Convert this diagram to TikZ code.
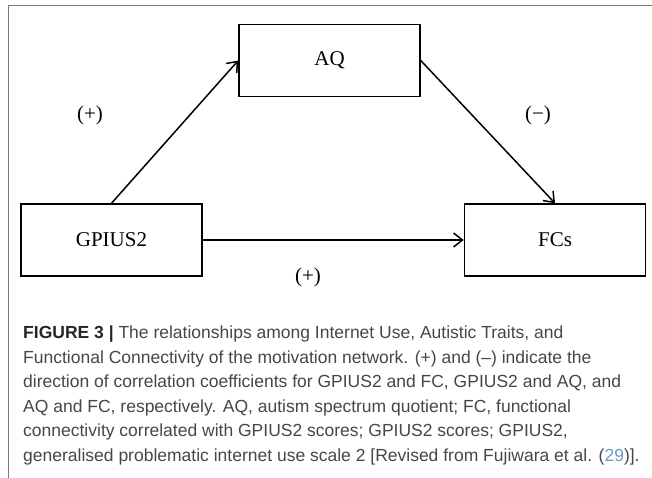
\documentclass[tikz,border=0pt]{standalone}
\usepackage{fontspec}
\setmainfont{Liberation Serif}
\newfontfamily\capfont{Liberation Sans}
\usetikzlibrary{arrows.meta}
\definecolor{framegray}{RGB}{120,120,120}
\definecolor{captext}{RGB}{70,70,70}
\definecolor{citeblue}{RGB}{110,150,200}

\begin{document}
\begin{tikzpicture}[x=1pt, y=-1pt,
    varbox/.style={draw, rectangle, line width=1.5pt, minimum width=181pt, minimum height=72pt, inner sep=0pt, font=\fontsize{21}{25}\selectfont},
    signlabel/.style={font=\fontsize{21}{25}\selectfont},
    relarrow/.style={-{Straight Barb[length=9pt,width=14pt]}, line width=1.5pt}]
    \useasboundingbox (0,0) rectangle (652,478);

    % Frame
    \draw[framegray, line width=1pt] (8,478) -- (8,6) -- (652,6);

    % Variables
    \node[varbox] (aq) at (329.5,60.5) {AQ};
    \node[varbox] (gpius) at (111.5,240) {GPIUS2};
    \node[varbox] (fcs) at (555,240) {FCs};

    % Paths
    \draw[relarrow] (gpius.north) -- (aq.west);
    \draw[relarrow] (aq.east) -- (fcs.north);
    \draw[relarrow] (gpius.east) -- (fcs.west);

    % Signs
    \node[signlabel] (plusa) at (90,115) {(+)};
    \node[signlabel] (minus) at (538,115) {(−)};
    \node[signlabel] (plusb) at (308,277) {(+)};

    % Caption
    \node[anchor=north west, inner sep=0pt, align=left, text=captext,
          font=\capfont\fontsize{17.5}{24.5}\selectfont] (caption) at (23,326)
        {{\bfseries\color{black!85}FIGURE 3 |} The relationships among Internet Use, Autistic Traits, and\\
         Functional Connectivity of the motivation network. (+) and (–) indicate the\\
         direction of correlation coefficients for GPIUS2 and FC, GPIUS2 and AQ, and\\
         AQ and FC, respectively. AQ, autism spectrum quotient; FC, functional\\
         connectivity correlated with GPIUS2 scores; GPIUS2 scores; GPIUS2,\\
         generalised problematic internet use scale 2 [Revised from Fujiwara et al. ({\color{citeblue}29})].};
\end{tikzpicture}
\end{document}
